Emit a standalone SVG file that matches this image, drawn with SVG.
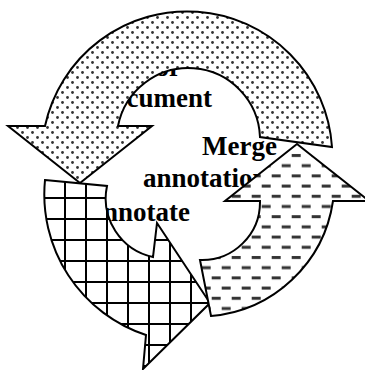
<svg xmlns="http://www.w3.org/2000/svg" width="365" height="370" viewBox="0 0 365 370">
  <style>
    .lbl { font-family: "Liberation Serif", "Times New Roman", serif; font-weight: bold; font-size: 27px; fill: #000; }
    .arrow { stroke: #000; stroke-width: 2; stroke-linejoin: miter; }
  </style>
  <defs>
    <pattern id="dots" patternUnits="userSpaceOnUse" width="10" height="10">
      <rect width="10" height="10" fill="#fff"/>
      <circle cx="2.5" cy="2.5" r="1.4" fill="#333"/>
      <circle cx="7.5" cy="7.5" r="1.4" fill="#333"/>
    </pattern>
    <pattern id="grid" patternUnits="userSpaceOnUse" x="1" y="8" width="21" height="21">
      <rect width="21" height="21" fill="#fff"/>
      <rect x="0" y="0" width="2" height="21" fill="#000"/>
      <rect x="0" y="0" width="21" height="2" fill="#000"/>
    </pattern>
    <pattern id="dashes" patternUnits="userSpaceOnUse" x="271.7" y="214.2" width="20" height="20.4">
      <rect width="20" height="20.4" fill="#fff"/>
      <rect x="0" y="1" width="9" height="3" fill="#333"/>
      <rect x="10" y="11.2" width="9" height="3" fill="#333"/>
    </pattern>
  </defs>
  <rect width="365" height="370" fill="#fff"/>
  <g id="node-author">
    <text class="lbl" x="181" y="76" text-anchor="end">Author</text>
    <text class="lbl" x="212" y="107" text-anchor="end">Document</text>
    <path class="arrow" fill="url(#dots)" d="M 45,126 A 145.3,145.3 0 0 1 332,147 L 260,137 A 71.7,71.7 0 0 0 118,126 L 152,126 L 80,183 L 8,126 Z"/>
  </g>
  <g id="node-annotate">
    <text class="lbl" x="190" y="221" text-anchor="end">Annotate</text>
    <path class="arrow" fill="url(#grid)" d="M 45,180 L 107,186 A 60,60 0 0 0 153,257 L 157,223 L 210,303 L 143,369 L 146,335 A 148,148 0 0 1 45,180 Z"/>
  </g>
  <g id="node-merge">
    <text class="lbl" x="202" y="155">Merge</text>
    <text class="lbl" x="143" y="187">annotations</text>
    <path class="arrow" fill="url(#dashes)" d="M 200,260 L 211,316 A 135,135 0 0 0 333,201 L 369,201 L 297,144 L 225,201 L 260,201 A 58,58 0 0 1 200,260 Z"/>
  </g>
  <g id="connectors"></g>
</svg>
